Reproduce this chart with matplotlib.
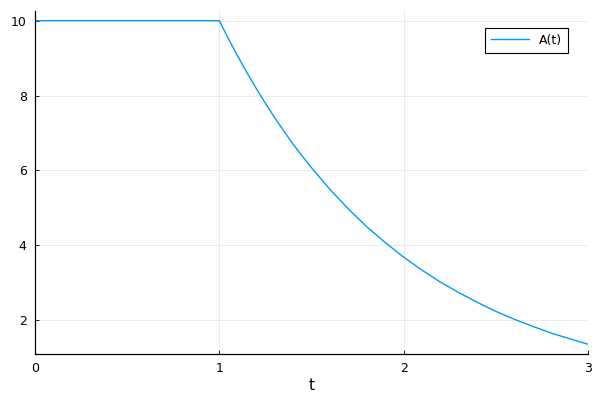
import numpy as np
import matplotlib
matplotlib.use("Agg")
import matplotlib.pyplot as plt

# valores
t = [0.0, 1.0, 1.05, 1.1, 1.15, 1.2, 1.25, 1.3, 1.35, 1.4, 1.45, 1.5,
     1.6, 1.7, 1.8, 1.9, 2.0, 2.1, 2.2, 2.3, 2.4, 2.5, 2.6, 2.7, 2.8, 2.9, 3.0]
A = [10.0, 10.0, 9.51, 9.05, 8.61, 8.19, 7.79, 7.41, 7.05, 6.70, 6.38, 6.07,
     5.49, 4.97, 4.49, 4.07, 3.68, 3.33, 3.01, 2.73, 2.47, 2.23, 2.02, 1.83,
     1.65, 1.50, 1.35]
xticks = [0, 1, 2, 3]
yticks = [2, 4, 6, 8, 10]

fig = plt.figure(figsize=(6, 4), dpi=100)
ax = fig.add_axes([35/600, 1-354/400, (588-35)/600, (354-11)/400])
ax.plot(t, A, color='#009AFA', lw=1.0, label='A(t)')

ax.set_xlim(0, 3)
span = max(A) - min(A)
ax.set_ylim(min(A) - 0.03*span, max(A) + 0.03*span)
ax.set_xticks(xticks)
ax.set_yticks(yticks)
ax.grid(True, color='#e8e8e8', lw=0.6)
ax.set_axisbelow(True)
for s in ['top', 'right']:
    ax.spines[s].set_visible(False)
for s in ['left', 'bottom']:
    ax.spines[s].set_linewidth(0.9)
ax.tick_params(direction='in', length=3, width=0.6, labelsize=9, pad=6)
ax.set_xlabel('t', fontsize=11, labelpad=2)

leg = ax.legend(loc='upper right', fontsize=9, fancybox=False, framealpha=1,
                edgecolor='black', borderpad=0.5, handlelength=3.0,
                bbox_to_anchor=(0.975, 0.97))
leg.get_frame().set_linewidth(0.8)

fig.savefig('out.png', dpi=100)
